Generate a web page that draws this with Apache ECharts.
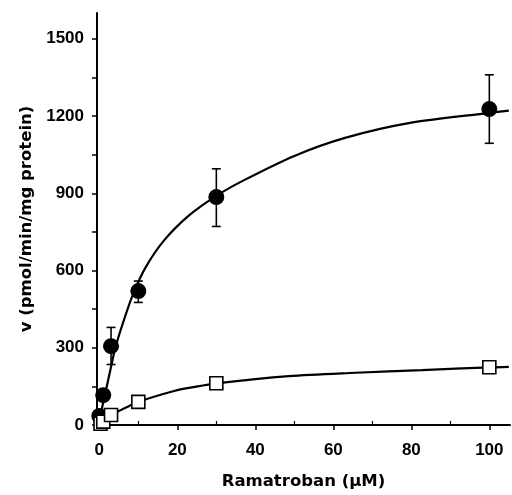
<!DOCTYPE html>
<html>
<head>
<meta charset="utf-8">
<script src="https://cdn.jsdelivr.net/npm/echarts@6/dist/echarts.min.js"></script>
<style>html,body{margin:0;padding:0;background:#fff;}#c{width:512px;height:495px;}</style>
</head>
<body>
<div id="c"></div>
<script>
// Data
const xFilled = [0, 1, 3, 10, 30, 100];
const yFilled = [35, 116, 306, 520, 885, 1227];
const errHighFilled = [null, null, 379, 559, 995, 1360];
const errLowFilled = [null, null, 235, 476, 771, 1094];

const xOpen = [0.3, 1, 3, 10, 30, 100];
const yOpen = [5, 13, 39, 90, 162, 224];

// fitted curves
const curveFilledX = [0, 1.7, 3, 4.1, 6, 8.7, 11.9, 16.6, 23, 30, 37, 50, 63, 80, 100, 105];
const curveFilledY = [20, 136, 226, 300, 394, 510, 613, 717, 814, 890, 950, 1045, 1115, 1174, 1212, 1221];
const curveOpenX = [0, 1, 3, 5, 6.6, 10, 19.4, 23.7, 30, 48.6, 65.7, 82.7, 100, 105];
const curveOpenY = [5, 14, 39, 54, 66, 90, 133, 146, 162, 190, 203, 213, 224, 226];

const xTicks = [0, 20, 40, 60, 80, 100];
const xMinorTicks = [10, 30, 50, 70, 90];
const yTicks = [0, 300, 600, 900, 1200, 1500];
const yMinorTicks = [150, 450, 750, 1050, 1350];

const xName = 'Ramatroban (\u00b5M)';
const yName = 'v (pmol/min/mg protein)';

const zip = (a, b) => a.map((v, i) => [v, b[i]]);
const numFont = { fontFamily: 'Liberation Sans', fontWeight: 'bold', fontSize: 17, color: '#000' };
const titleFont = { fontFamily: 'DejaVu Sans', fontWeight: 'bold', fontSize: 16.5, color: '#000' };

const chart = echarts.init(document.getElementById('c'), null, { renderer: 'canvas' });
chart.setOption({
  animation: false,
  backgroundColor: '#fff',
  grid: { left: 97, right: 2, top: 13, bottom: 70, containLabel: false },
  xAxis: [{
    type: 'value', min: -0.6, max: 105.3, position: 'bottom',
    name: xName, nameLocation: 'middle', nameGap: 48, nameTextStyle: titleFont,
    axisLine: { onZero: false, lineStyle: { color: '#000', width: 2 } },
    axisTick: { inside: false, length: 5, lineStyle: { color: '#000', width: 1.5 }, customValues: xTicks },
    axisLabel: Object.assign({ margin: 17, customValues: xTicks, formatter: v => String(v) }, numFont),
    splitLine: { show: false }
  }, {
    type: 'value', min: -0.6, max: 105.3, position: 'bottom',
    axisLine: { show: false },
    axisTick: { inside: true, length: 4, lineStyle: { color: '#000', width: 1.2 }, customValues: xMinorTicks },
    axisLabel: { show: false },
    splitLine: { show: false }
  }],
  yAxis: {
    type: 'value', min: 0, max: 1600,
    name: yName, nameLocation: 'middle', nameGap: 59, nameRotate: 90, nameTextStyle: titleFont,
    axisLine: { onZero: false, lineStyle: { color: '#000', width: 2 } },
    axisTick: { inside: false, length: 5, lineStyle: { color: '#000', width: 1.5 }, customValues: yTicks.concat(yMinorTicks) },
    axisLabel: Object.assign({ margin: 13, customValues: yTicks, formatter: v => String(v) }, numFont),
    splitLine: { show: false }
  },
  series: [
    { type: 'line', data: zip(curveFilledX, curveFilledY), smooth: 0.3, showSymbol: false, symbol: 'none', lineStyle: { color: '#000', width: 2.2 }, z: 2 },
    { type: 'line', data: zip(curveOpenX, curveOpenY), smooth: 0.3, showSymbol: false, symbol: 'none', lineStyle: { color: '#000', width: 2.2 }, z: 2 },
    {
      type: 'custom', z: 3,
      data: xFilled.map((x, i) => [x, errLowFilled[i], errHighFilled[i]]).filter(d => d[1] != null),
      renderItem: function (params, api) {
        const x = api.value(0);
        const lo = api.coord([x, api.value(1)]);
        const hi = api.coord([x, api.value(2)]);
        const w = 4.5;
        const style = { stroke: '#000', lineWidth: 1.6 };
        return { type: 'group', children: [
          { type: 'line', shape: { x1: lo[0], y1: lo[1], x2: hi[0], y2: hi[1] }, style },
          { type: 'line', shape: { x1: lo[0] - w, y1: lo[1], x2: lo[0] + w, y2: lo[1] }, style },
          { type: 'line', shape: { x1: hi[0] - w, y1: hi[1], x2: hi[0] + w, y2: hi[1] }, style }
        ]};
      }
    },
    { type: 'scatter', data: zip(xFilled, yFilled), symbol: 'circle', symbolSize: 16, itemStyle: { color: '#000', opacity: 1 }, z: 4 },
    { type: 'scatter', data: zip(xOpen, yOpen), symbol: 'rect', symbolSize: 13, itemStyle: { color: '#fff', borderColor: '#000', borderWidth: 1.6, opacity: 1 }, z: 5 }
  ]
});
</script>
</body>
</html>
